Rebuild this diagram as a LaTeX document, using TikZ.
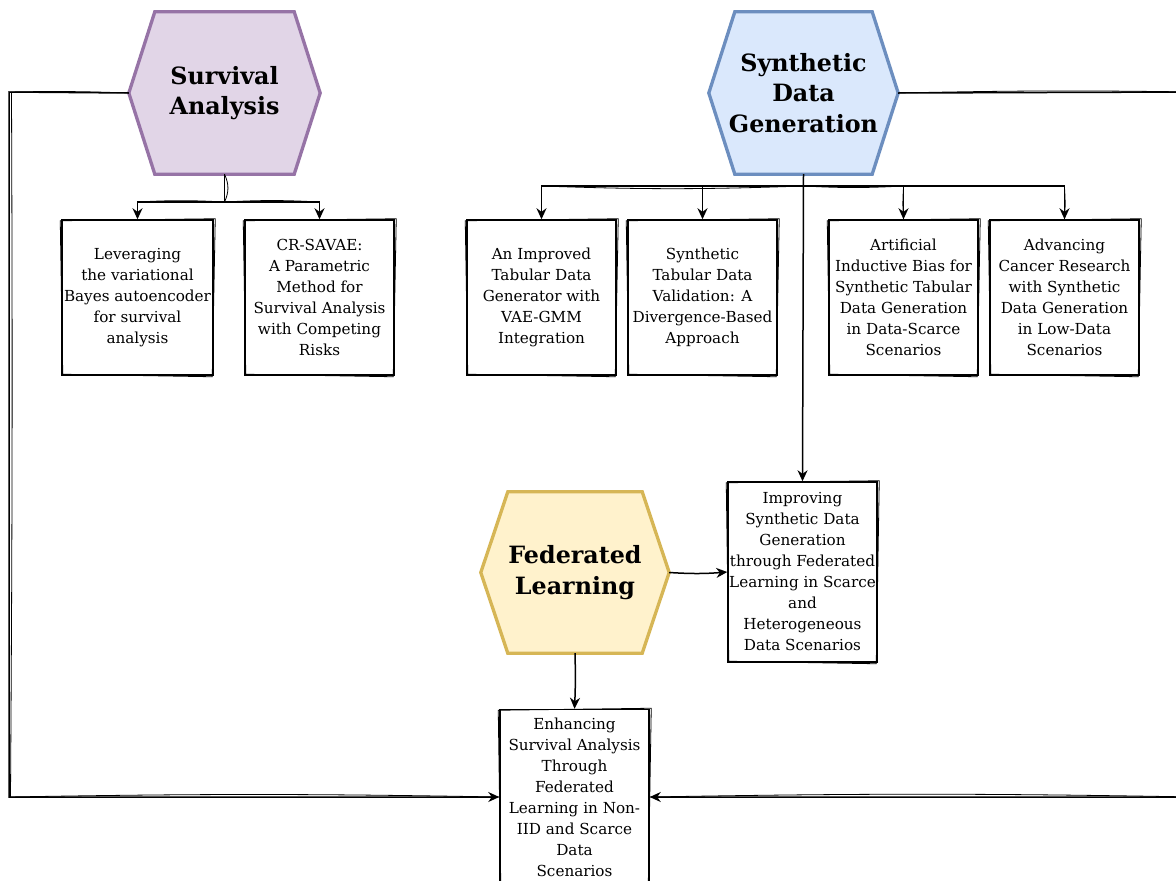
\documentclass[tikz,border=0pt]{standalone}
\usepackage{fontspec}
\setmainfont{DejaVu Serif}
\usetikzlibrary{arrows.meta,calc,backgrounds}

\definecolor{saFill}{HTML}{E1D5E7}
\definecolor{saLine}{HTML}{9673A6}
\definecolor{sdFill}{HTML}{DAE8FC}
\definecolor{sdLine}{HTML}{6C8EBF}
\definecolor{flFill}{HTML}{FFF2CC}
\definecolor{flLine}{HTML}{D6B656}

% hexagon topic: #1 name, #2 centre, #3 width, #4 height, #5 corner cut, #6 fill, #7 line, #8 text
\newcommand\topichex[8]{%
  \node[topic, minimum width=#3, minimum height=#4] (#1) at #2 {#8};
  \begin{scope}[on background layer]
    \draw[line width=3.3pt, line join=miter, fill=#6, draw=#7]
      ($(#1.north west)+(#5,0)$) -- ($(#1.north east)+(-#5,0)$) -- (#1.east)
      -- ($(#1.south east)+(-#5,0)$) -- ($(#1.south west)+(#5,0)$) -- (#1.west) -- cycle;
  \end{scope}}

\begin{document}
\begin{tikzpicture}[x=1pt,y=-1pt,
  topic/.style={inner sep=0pt, align=center,
    font=\fontsize{23.8}{30.5}\selectfont\bfseries},
  paper/.style={draw, line width=1.5pt, fill=white, inner sep=0pt,
    minimum width=150pt, minimum height=155pt, align=center,
    font=\fontsize{15.2}{21}\selectfont},
  conn/.style={line width=1.5pt, -{Stealth[length=11pt,width=10pt]}},
  rough/.style={line width=0.8pt}
]

\useasboundingbox (0,0) rectangle (1176,881);
\clip (0,0) rectangle (1176,881);

% topics
\topichex{sa}{(224.5,93)}{191pt}{162pt}{26}{saFill}{saLine}{Survival\\Analysis}
\topichex{sdg}{(803.5,93)}{189pt}{162pt}{26}{sdFill}{sdLine}{Synthetic\\Data\\Generation}
\topichex{fl}{(575,572.5)}{188pt}{161pt}{27}{flFill}{flLine}{Federated\\Learning}

% papers
\node[paper, minimum width=151pt] (b1) at (137.5,297.5)
  {Leveraging\\the variational\\Bayes autoencoder\\for survival\\analysis};
\node[paper, minimum width=149pt] (b2) at (319.5,297.5)
  {CR-SAVAE:\\A Parametric\\Method for\\Survival Analysis\\with Competing\\Risks};
\node[paper, minimum width=149pt] (b3) at (541.5,297.5)
  {An Improved\\Tabular Data\\Generator with\\VAE-GMM\\Integration};
\node[paper, minimum width=149pt] (b4) at (702.5,297.5)
  {Synthetic\\Tabular Data\\Validation: A\\Divergence-Based\\Approach};
\node[paper, minimum width=149pt] (b5) at (903.5,297.5)
  {Artificial\\Inductive Bias for\\Synthetic Tabular\\Data Generation\\in Data-Scarce\\Scenarios};
\node[paper, minimum width=149pt] (b6) at (1064.5,297.5)
  {Advancing\\Cancer Research\\with Synthetic\\Data Generation\\in Low-Data\\Scenarios};
\node[paper, minimum width=149pt, minimum height=180pt] (b7) at (802.5,572)
  {Improving\\Synthetic Data\\Generation\\through Federated\\Learning in Scarce\\and\\Heterogeneous\\Data Scenarios};
\node[paper, minimum width=149pt, minimum height=175pt] (b8) at (574.5,797)
  {Enhancing\\Survival Analysis\\Through\\Federated\\Learning in Non-\\IID and Scarce\\Data\\Scenarios};

% second pen stroke round each paper box
\foreach \n in {b1,b2,b3,b4,b5,b6,b7,b8}{
  \draw[rough] ($(\n.north west)+(-1,1.5)$) -- ($(\n.north east)+(1.5,-0.5)$)
    -- ($(\n.south east)+(-1.5,1)$) -- ($(\n.south west)+(1.5,-1.5)$) -- cycle;
}

% junctions and bends
\coordinate (saj) at (224.5,202);
\coordinate (sdj) at (803.5,186);
\coordinate (lt) at (9,92);
\coordinate (lb) at (9,797);
\coordinate (rt) at (1195,92);
\coordinate (rb) at (1195,797);

% survival analysis branch
\draw[line width=1.5pt] (sa.south) -- (saj);
\draw[conn] (saj) -| (b1.north);
\draw[conn] (saj) -| (b2.north);
\draw[rough] (sa.south) to[bend left=25] (saj);
\draw[rough] (saj) to[bend right=3] (b1.north |- saj);
\draw[rough] (saj) to[bend left=3] (b2.north |- saj);

% synthetic data generation branch
\draw[line width=1.5pt] (sdg.south) -- (sdj);
\draw[conn] (sdj) -| (b3.north);
\draw[conn] (sdj) -| (b4.north);
\draw[conn] (sdj) -| (b5.north);
\draw[conn] (sdj) -| (b6.north);
\draw[conn] (sdg.south) -- (b7.north);
\draw[rough] (sdj) to[bend left=2] (b3.north |- sdj);
\draw[rough] (sdj) to[bend right=3] (b5.north |- sdj);
\draw[rough] ($(b5.north |- sdj)+(0,2)$) to[bend right=4] (b5.north);
\draw[rough] ($(b6.north |- sdj)+(0,2)$) to[bend left=4] (b6.north);

% federated learning branch
\draw[conn] (fl.east) to[bend right=4] (b7.west);
\draw[conn] (fl.south) to[bend left=2] (b8.north);

% long links into the bottom paper
\draw[conn] (sa.west) -- (lt) -- (lb) -- (b8.west);
\draw[rough] (sa.west) to[bend right=1.5] (lt);
\draw[rough] ($(lt)+(2.5,0)$) to[bend left=0.3] ($(lb)+(1.5,0)$);
\draw[rough] (lb) to[bend left=1] (b8.west);
\draw[conn] (sdg.east) -- (rt) -- (rb) -- (b8.east);
\draw[rough] (sdg.east) to[bend left=1] (rt);
\draw[rough] (rb) to[bend right=1] (b8.east);
\end{tikzpicture}
\end{document}
